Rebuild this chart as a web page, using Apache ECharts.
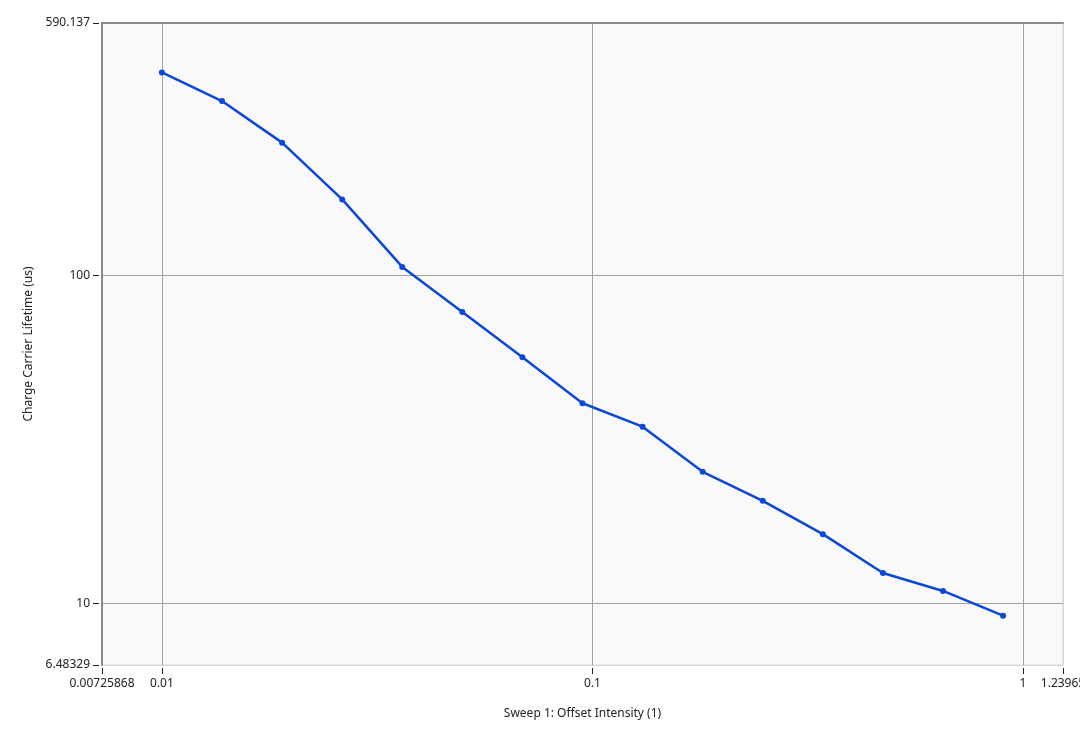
<!DOCTYPE html>
<html>
<head>
<meta charset="utf-8">
<script src="https://cdn.jsdelivr.net/npm/echarts@6/dist/echarts.min.js"></script>
<style>
html,body{margin:0;padding:0;background:#fff;}
#chart{width:1080px;height:729px;}
</style>
</head>
<body>
<div id="chart"></div>
<script>
// Data
const xValues = [0.01, 0.01379, 0.01902, 0.02623, 0.03617, 0.04988, 0.06879, 0.09486, 0.1308, 0.1804, 0.2488, 0.3431, 0.4731, 0.6524, 0.8997];
const yValues = [416.9, 341, 254.6, 170.8, 106.3, 77.4, 56.4, 40.8, 34.6, 25.2, 20.55, 16.26, 12.38, 10.91, 9.17];
const xMin = 0.00725868, xMax = 1.23965;
const yMin = 6.48329, yMax = 590.137;
const xTickValues = [0.00725868, 0.01, 0.1, 1, 1.23965];
const xTickLabels = ['0.00725868', '0.01', '0.1', '1', '1.23965'];
const yTickValues = [6.48329, 10, 100, 590.137];
const yTickLabels = ['6.48329', '10', '100', '590.137'];

function lookup(vals, labels) {
  return function (v) {
    let best = 0, bd = Infinity;
    for (let i = 0; i < vals.length; i++) {
      const d = Math.abs(Math.log10(v) - Math.log10(vals[i]));
      if (d < bd) { bd = d; best = i; }
    }
    return labels[best];
  };
}

const FONT = '"Noto Sans", "Open Sans", sans-serif';
const chart = echarts.init(document.getElementById('chart'), null, {renderer: 'canvas'});
const pts = xValues.map((x, i) => [x, yValues[i]]);

chart.setOption({
  animation: false,
  backgroundColor: '#ffffff',
  grid: {
    left: 102, top: 23, right: 17, bottom: 64,
    outerBoundsMode: 'none', containLabel: false,
    show: true, backgroundColor: '#f9f9f9', borderColor: '#d6d6d6', borderWidth: 1
  },
  xAxis: [{
    type: 'log', logBase: 10, min: xMin, max: xMax,
    position: 'bottom', offset: 3,
    axisLine: {show: false},
    axisTick: {show: true, length: 6, lineStyle: {color: '#222', width: 1}},
    axisLabel: {
      show: true, interval: 0, showMinLabel: true, showMaxLabel: true, margin: 10,
      color: '#222', fontFamily: FONT, fontSize: 12, hideOverlap: false,
      formatter: lookup(xTickValues, xTickLabels)
    },
    splitLine: {show: true, lineStyle: {color: ['#888888', '#a3a3a3', '#a3a3a3', '#a3a3a3', '#d6d6d6'], width: 1}},
    name: 'Sweep 1: Offset Intensity (1)', nameLocation: 'middle', nameGap: 40,
    nameTextStyle: {color: '#222', fontFamily: FONT, fontSize: 12}
  }, {
    type: 'log', logBase: 10, min: xMin, max: xMax,
    position: 'top',
    axisLine: {show: true, lineStyle: {color: '#8a8a8a', width: 2}},
    axisTick: {show: false}, axisLabel: {show: false}, splitLine: {show: false}
  }],
  yAxis: [{
    type: 'log', logBase: 10, min: yMin, max: yMax,
    position: 'left',
    axisLine: {show: true, lineStyle: {color: '#8a8a8a', width: 2}},
    axisTick: {show: false}, axisLabel: {show: false},
    splitLine: {show: true, lineStyle: {color: ['#d6d6d6', '#a3a3a3', '#a3a3a3', '#8a8a8a'], width: 1}}
  }, {
    type: 'log', logBase: 10, min: yMin, max: yMax,
    position: 'left', offset: 3,
    axisLine: {show: false},
    axisTick: {show: true, length: 6, lineStyle: {color: '#222', width: 1}},
    axisLabel: {
      show: true, interval: 0, showMinLabel: true, showMaxLabel: true, margin: 9,
      color: '#222', fontFamily: FONT, fontSize: 12, hideOverlap: false,
      formatter: lookup(yTickValues, yTickLabels)
    },
    splitLine: {show: false},
    name: 'Charge Carrier Lifetime (us)', nameLocation: 'middle', nameGap: 63,
    nameTextStyle: {color: '#222', fontFamily: FONT, fontSize: 12}
  }],
  series: [{
    type: 'line',
    xAxisIndex: 0, yAxisIndex: 0,
    data: pts,
    symbol: 'circle', symbolSize: 6,
    lineStyle: {color: '#0b48d8', width: 2.5},
    itemStyle: {color: '#0b48d8'}
  }]
});
</script>
</body>
</html>
